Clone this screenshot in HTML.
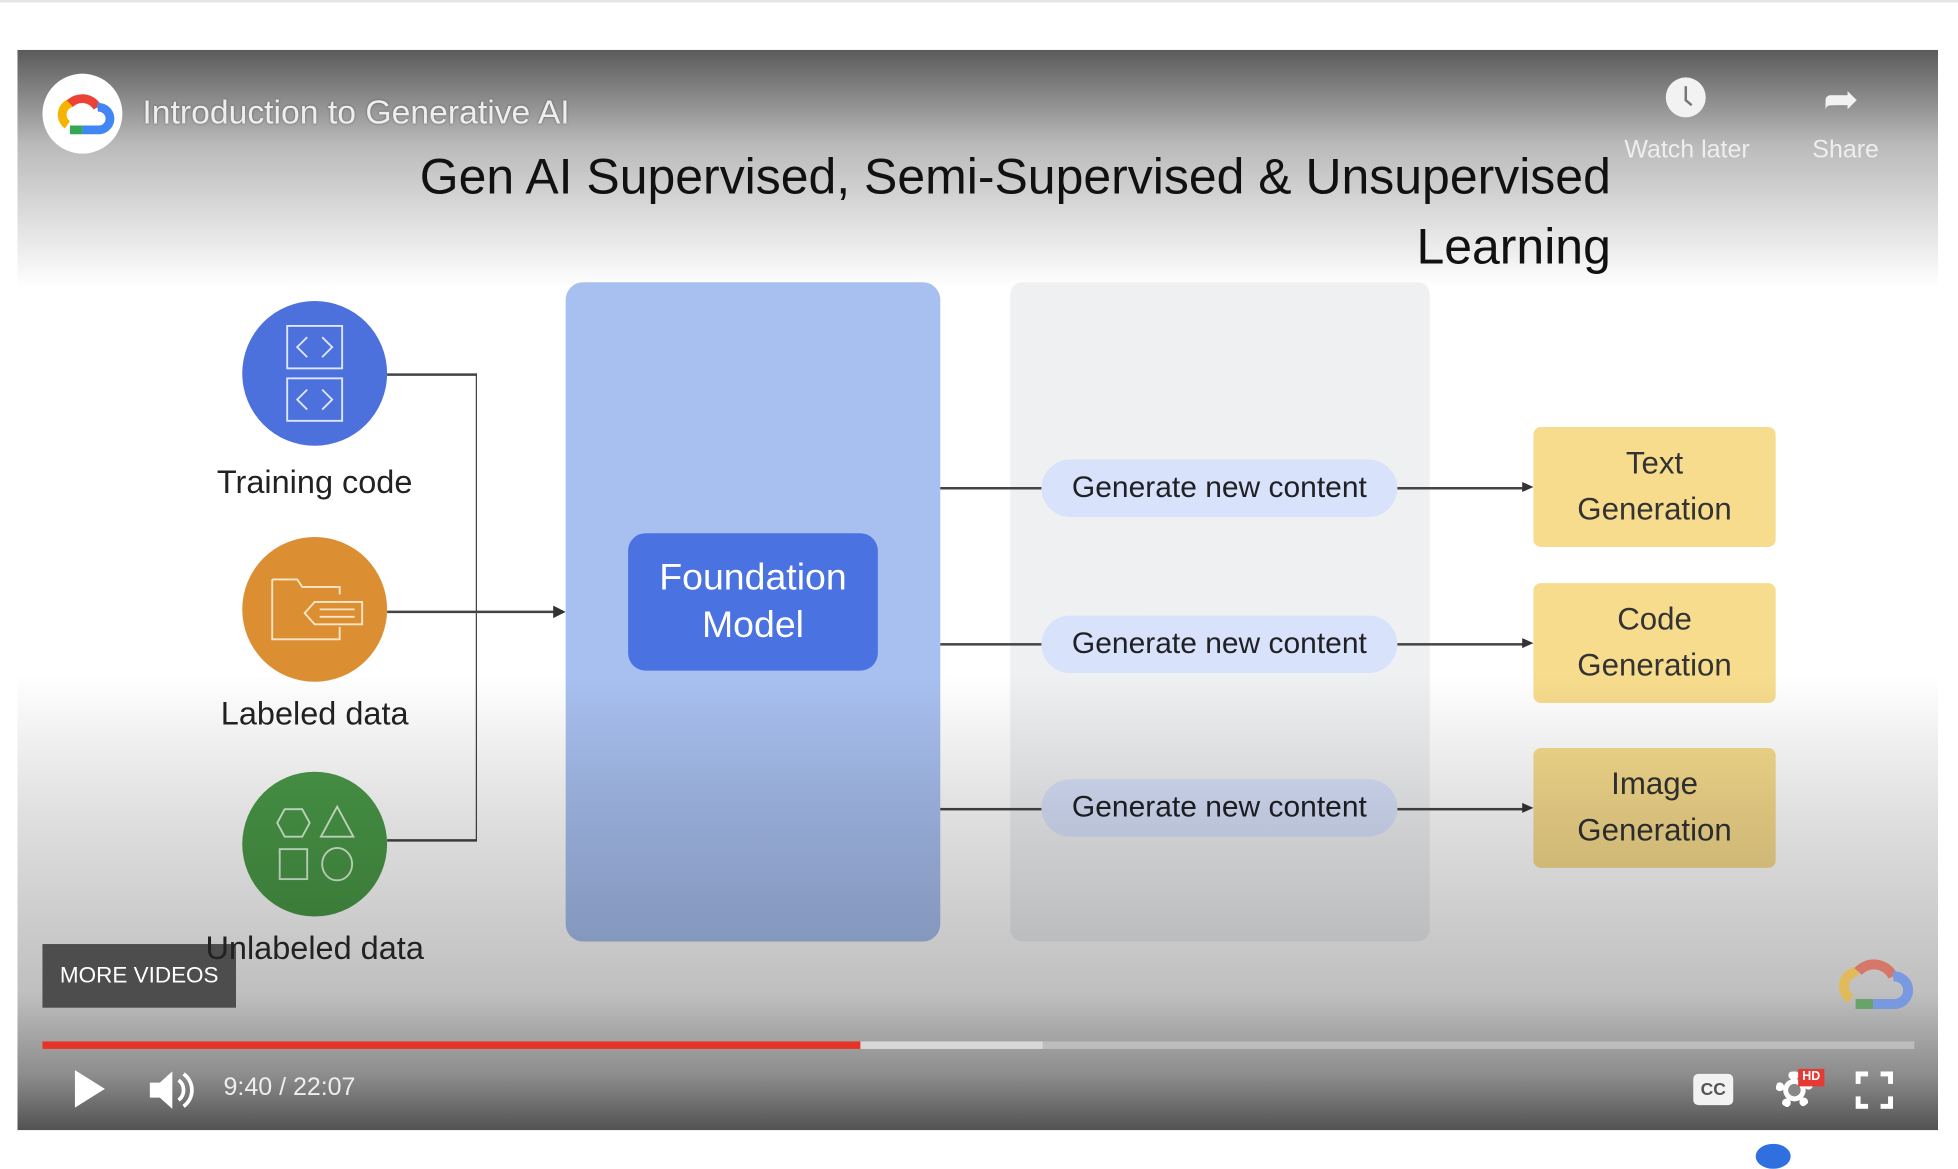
<!DOCTYPE html>
<html><head><meta charset="utf-8"><style>
html,body{margin:0;padding:0;width:1958px;height:1154px;overflow:hidden;background:#fff;font-family:"Liberation Sans",sans-serif}
#w{position:absolute;left:0;top:0;width:1568px;height:924px;transform:scale(1.24872);transform-origin:0 0}
.a{position:absolute}
.lbl{position:absolute;font-size:26px;color:#222;text-align:center;width:240px}
.pill{position:absolute;left:834px;width:285px;height:46px;border-radius:23px;background:#d8e2fb;font-size:24px;color:#202124;text-align:center;line-height:46px}
.yb{position:absolute;left:1228px;width:194px;height:96px;border-radius:6px;background:#f7dc8d;font-size:25px;color:#333;text-align:center;line-height:37px;display:flex;align-items:center;justify-content:center}
.h{position:absolute;height:1.5px;background:#444}
</style></head><body><div id="w">
<div class="a" style="left:0;top:0;width:1568px;height:2px;background:#e6e6e6"></div>
<div class="a" style="left:14px;top:40px;width:1538px;height:865px;background:#fff;overflow:hidden"></div>
<div class="a" style="left:14px;top:40px;width:1538px;height:190px;background:linear-gradient(#5a5a5a,rgba(140,140,140,.6) 40%,rgba(255,255,255,0))"></div>

<div class="a" style="left:300px;top:114px;width:990px;text-align:right;font-size:40px;color:#111;line-height:56px">Gen AI Supervised, Semi-Supervised &amp; Unsupervised<br>Learning</div>

<div class="a" style="left:453px;top:226px;width:300px;height:528px;border-radius:14px;background:#a8c0f0"></div>
<div class="a" style="left:809px;top:226px;width:336px;height:528px;border-radius:10px;background:#eff0f2"></div>
<div class="a" style="left:503px;top:427px;width:200px;height:110px;border-radius:14px;background:#4a72e0;color:#fff;font-size:30px;text-align:center;line-height:38px;display:flex;align-items:center;justify-content:center">Foundation<br>Model</div>

<div class="a" style="left:194px;top:241px;width:116px;height:116px;border-radius:50%;background:#4c70dc"></div>
<svg class="a" style="left:194px;top:241px" width="116" height="116" fill="none" stroke="#dfe6ff" stroke-width="1.5"><rect x="36" y="20" width="44" height="34"/><rect x="36" y="62" width="44" height="34"/><path d="M52 29l-8 8 8 8M64 29l8 8-8 8M52 71l-8 8 8 8M64 71l8 8-8 8"/></svg>
<div class="a" style="left:194px;top:430px;width:116px;height:116px;border-radius:50%;background:#dc8e33"></div>
<svg class="a" style="left:194px;top:430px" width="116" height="116" fill="none" stroke="#fbe6c8" stroke-width="1.5"><path d="M24 34h20l4 6h30v6M24 34v48h54v-10"/><path d="M58 52h38v18H58l-8-9z M62 58h28M62 64h28"/></svg>
<div class="a" style="left:194px;top:618px;width:116px;height:116px;border-radius:50%;background:#4a9a48"></div>
<svg class="a" style="left:194px;top:618px" width="116" height="116" fill="none" stroke="#d8f0d6" stroke-width="1.5"><path d="M34 30h14l6 11-6 11H34l-6-11z"/><path d="M76 28l13 24H63z"/><rect x="30" y="62" width="22" height="24"/><ellipse cx="76" cy="74" rx="12" ry="13"/></svg>
<div class="lbl" style="left:132px;top:371px">Training code</div>
<div class="lbl" style="left:132px;top:556px">Labeled data</div>

<div class="h" style="left:310px;top:299px;width:72px"></div>
<div class="h" style="left:310px;top:672px;width:72px"></div>
<div class="a" style="left:380.5px;top:299px;width:1.5px;height:374px;background:#444"></div>
<div class="h" style="left:310px;top:489px;width:134px"></div>
<div class="a" style="left:443px;top:485px;width:0;height:0;border-left:10px solid #333;border-top:5px solid transparent;border-bottom:5px solid transparent"></div>

<div class="h" style="left:753px;top:390px;width:81px"></div>
<div class="h" style="left:753px;top:515px;width:81px"></div>
<div class="h" style="left:753px;top:647px;width:81px"></div>
<div class="h" style="left:1119px;top:390px;width:102px"></div>
<div class="h" style="left:1119px;top:515px;width:102px"></div>
<div class="h" style="left:1119px;top:647px;width:102px"></div>
<div class="a" style="left:1219px;top:386px;border-left:9px solid #333;border-top:4px solid transparent;border-bottom:4px solid transparent"></div>
<div class="a" style="left:1219px;top:511px;border-left:9px solid #333;border-top:4px solid transparent;border-bottom:4px solid transparent"></div>
<div class="a" style="left:1219px;top:643px;border-left:9px solid #333;border-top:4px solid transparent;border-bottom:4px solid transparent"></div>
<div class="pill" style="top:368px">Generate new content</div>
<div class="pill" style="top:493px">Generate new content</div>
<div class="pill" style="top:624px">Generate new content</div>
<div class="yb" style="top:342px">Text<br>Generation</div>
<div class="yb" style="top:467px">Code<br>Generation</div>
<div class="yb" style="top:599px">Image<br>Generation</div>

<div class="a" style="left:14px;top:540px;width:1538px;height:365px;background:linear-gradient(rgba(0,0,0,0),rgba(0,0,0,.12) 30%,rgba(0,0,0,.25) 70%,rgba(0,0,0,.45) 88%,rgba(0,0,0,.68))"></div>

<div class="a" style="left:34px;top:59px;width:64px;height:64px;border-radius:50%;background:#fff"></div>
<svg class="a" style="left:40px;top:70px" width="52" height="40"><path d="M14 30a10 10 0 0 1 4-18" stroke="#f4b400" stroke-width="7" fill="none"/><path d="M16 13a14 14 0 0 1 22 3" stroke="#ea4335" stroke-width="7" fill="none"/><path d="M38 16a9 9 0 0 1 2 18H26" stroke="#4285f4" stroke-width="7" fill="none"/><path d="M26 34H16" stroke="#34a853" stroke-width="7"/></svg>
<div class="a" style="left:114px;top:75px;font-size:27px;color:#eee;text-shadow:0 0 2px rgba(0,0,0,.4)">Introduction to Generative AI</div>
<div class="a" style="left:1334px;top:62px;width:32px;height:32px;border-radius:50%;background:#f2f2f2"></div>
<div class="a" style="left:1349px;top:69px;width:2px;height:11px;background:#777"></div>
<div class="a" style="left:1350px;top:79px;width:7px;height:2px;background:#777;transform:rotate(40deg);transform-origin:0 0"></div>
<div class="a" style="left:1294px;top:109px;width:114px;text-align:center;font-size:20px;color:#eee">Watch later</div>
<div class="a" style="left:1460px;top:60px;font-size:34px;color:#f2f2f2">&#10150;</div>
<div class="a" style="left:1446px;top:109px;width:64px;text-align:center;font-size:20px;color:#eee">Share</div>

<div class="a" style="left:34px;top:756px;width:155px;height:51px;background:#4d4d4d;color:#fff;font-size:18px;line-height:51px;text-align:center">MORE VIDEOS</div>
<div class="lbl" style="left:132px;top:744px">Unlabeled data</div>
<svg class="a" style="left:1468px;top:760px" width="64" height="54" opacity=".85"><path d="M14 40a12 12 0 0 1 6-22" stroke="#e6b94a" stroke-width="8" fill="none"/><path d="M20 18a17 17 0 0 1 28 4" stroke="#d96a5a" stroke-width="8" fill="none"/><path d="M48 22a11 11 0 0 1 2 22H32" stroke="#6d94e6" stroke-width="8" fill="none"/><path d="M32 44H18" stroke="#5aa05e" stroke-width="8"/></svg>

<div class="a" style="left:34px;top:834px;width:1499px;height:6px;background:#bdbdbd"></div>
<div class="a" style="left:689px;top:834px;width:146px;height:6px;background:#d8d8d8"></div>
<div class="a" style="left:34px;top:834px;width:655px;height:6px;background:#e63327"></div>

<div class="a" style="left:60px;top:857px;border-left:24px solid #fff;border-top:15px solid transparent;border-bottom:15px solid transparent"></div>
<svg class="a" style="left:118px;top:855px" width="40" height="36"><path d="M2 12h8l10-9v30l-10-9H2z" fill="#fff"/><path d="M25 10a10 10 0 0 1 0 16M29 5a16 16 0 0 1 0 26" stroke="#fff" stroke-width="3" fill="none"/></svg>
<div class="a" style="left:179px;top:860px;font-size:20px;color:#eee">9:40 / 22:07</div>
<div class="a" style="left:1356px;top:860px;width:32px;height:25px;border-radius:4px;background:#f2f2f2;color:#555;font-size:14px;font-weight:bold;text-align:center;line-height:25px">CC</div>
<div class="a" style="left:1422px;top:858px;width:30px;height:30px;border-radius:50%;border:7px dotted #fff;box-sizing:border-box"></div>
<div class="a" style="left:1428px;top:864px;width:18px;height:18px;border-radius:50%;background:#fff"></div>
<div class="a" style="left:1432px;top:868px;width:10px;height:10px;border-radius:50%;background:#888"></div>
<div class="a" style="left:1440px;top:856px;width:21px;height:14px;background:#e53935;color:#fff;font-size:10px;font-weight:bold;text-align:center;line-height:14px">HD</div>
<svg class="a" style="left:1486px;top:858px" width="30" height="30" stroke="#fff" stroke-width="4" fill="none"><path d="M2 10V2h8M20 2h8v8M28 20v8h-8M10 28H2v-8"/></svg>

<div class="a" style="left:1406px;top:916px;width:28px;height:20px;border-radius:50%;background:#2f6fe0"></div>
</div></body></html>
